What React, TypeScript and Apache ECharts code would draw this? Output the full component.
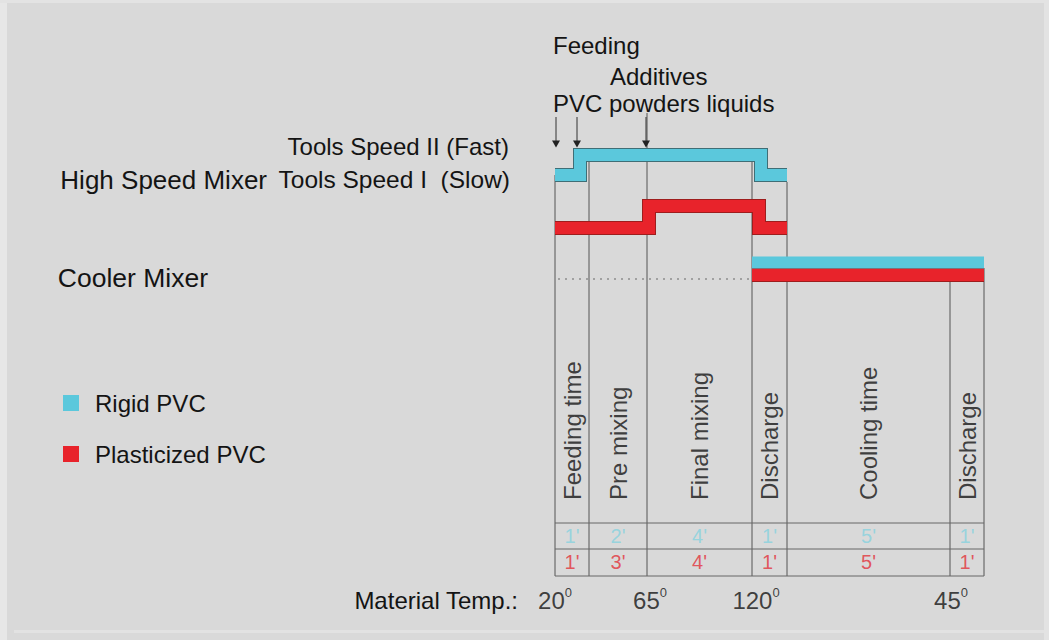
import React, { useEffect, useRef } from "react";
import * as echarts from "echarts";

// ---- Data (schematic time axis: 0..429 units, level axis: -64..476 units) ----
const phaseNames = ["Feeding time", "Pre mixing", "Final mixing", "Discharge", "Cooling time", "Discharge"];
const phaseBoundaries = [0, 34, 92, 197, 232, 395, 429];
const boundaryTops = [401, 414, 463, 414, 394, 308, 308];
const rigidMinutes = [1, 2, 4, 1, 5, 1];
const plasticizedMinutes = [1, 3, 4, 1, 5, 1];
const tempLabels = ["20", "65", "120", "45"];
const tempPositions = [0, 95, 201, 396];

// mixer speed profiles (x, level)
const rigidHighSpeed = [[0, 401], [25, 401], [25, 421], [206, 421], [206, 401], [232, 401]];
const plasticizedHighSpeed = [[0, 348], [94, 348], [94, 370], [204, 370], [204, 348], [232, 348]];
const rigidCooler = [[197, 313.5], [429, 313.5]];
const plasticizedCooler = [[197, 301], [429, 301]];
const coolerLeader = [[-340, 297], [197, 297]];
const arrowXs = [1, 22, 91];
const tableRowLines = [53, 27, 0];
const rowCenters = [40, 14];
const phaseLabelBase = 76;
const tempRow = -24;

const FONT = "'Liberation Sans', Arial, Helvetica, sans-serif";
const BLUE = "#5bc8dc";
const BLUE_EDGE = "#3f6e76";
const RED = "#e8232b";
const RED_EDGE = "#9e1d1d";
const TEXT = "#141414";

function seg(points: number[][], color: string, width: number, z = 1, type: any = "solid") {
  return {
    type: "line",
    data: points,
    showSymbol: false,
    silent: true,
    clip: false,
    z,
    lineStyle: { color, width, type, cap: "butt", join: "miter" },
    itemStyle: { color },
  };
}

function band(name: string, points: number[][], color: string, edge: string, width: number) {
  return [
    { ...seg(points, edge, width + 2, 3), name: "_edge_" + name },
    { ...seg(points, color, width, 4), name, itemStyle: { color } },
  ];
}

export default function App() {
  const ref = useRef<HTMLDivElement>(null);
  useEffect(() => {
    if (!ref.current) return;
    const chart = echarts.init(ref.current, undefined, { renderer: "svg" });

    const centers = phaseBoundaries.slice(0, -1).map((b, i) => (b + phaseBoundaries[i + 1]) / 2);

    const series: any[] = [];
    // vertical phase separators
    phaseBoundaries.forEach((x, i) => {
      series.push(seg([[x, boundaryTops[i]], [x, 0]], "#555", 1, 1));
    });
    // table rows
    tableRowLines.forEach((y) => {
      series.push(seg([[0, y], [429, y]], "#666", 1, 1));
    });
    // cooler leader dotted line
    series.push(seg(coolerLeader, "#a0a0a0", 2, 1, [2, 5]));
    // arrows
    arrowXs.forEach((x) => {
      series.push({
        type: "line",
        silent: true,
        clip: false,
        z: 2,
        lineStyle: { color: "#333", width: 1 },
        itemStyle: { color: "#222" },
        symbol: "none",
        showSymbol: true,
        data: [
          { value: [x, 459], symbol: "none" },
          { value: [x, 432], symbol: "triangle", symbolSize: [8, 7], symbolRotate: 180 },
        ],
      });
    });
    // bands
    series.push(...band("Rigid PVC", rigidHighSpeed, BLUE, BLUE_EDGE, 12));
    series.push(...band("Plasticized PVC", plasticizedHighSpeed, RED, RED_EDGE, 12));
    series.push(...band("Plasticized PVC", plasticizedCooler, RED, RED_EDGE, 12));
    series.push(...band("Rigid PVC", rigidCooler, BLUE, BLUE, 10));

    // phase names (rotated)
    series.push({
      type: "scatter",
      silent: true,
      clip: false,
      z: 5,
      symbolSize: 0,
      data: centers.map((x, i) => ({ value: [x, phaseLabelBase], name: phaseNames[i] })),
      label: {
        show: true,
        position: "inside",
        rotate: 90,
        align: "left",
        verticalAlign: "middle",
        formatter: "{b}",
        fontSize: 24,
        fontFamily: FONT,
        color: TEXT,
      },
    });
    // durations
    const durationSeries = (vals: number[], y: number, color: string) => ({
      type: "scatter",
      silent: true,
      clip: false,
      z: 5,
      symbolSize: 0,
      data: centers.map((x, i) => ({ value: [x, y], name: vals[i] + "'" })),
      label: {
        show: true,
        position: "inside",
        formatter: "{b}",
        fontSize: 20,
        fontFamily: FONT,
        color,
      },
    });
    series.push(durationSeries(rigidMinutes, rowCenters[0], "#86d2df"));
    series.push(durationSeries(plasticizedMinutes, rowCenters[1], "#e2333b"));
    // temperatures
    series.push({
      type: "scatter",
      silent: true,
      clip: false,
      z: 5,
      symbolSize: 0,
      data: tempPositions.map((x, i) => ({ value: [x, tempRow], name: tempLabels[i] })),
      label: {
        show: true,
        position: "inside",
        formatter: (p: any) => p.name + "{s|0}",
        fontSize: 24,
        lineHeight: 28,
        fontFamily: FONT,
        color: TEXT,
        rich: {
          s: { fontSize: 13, verticalAlign: "top", lineHeight: 13, fontFamily: FONT, color: TEXT },
        },
      },
    });

    const txt = (text: string, x: number, y: number, align: string, size = 24) => ({
      type: "text",
      x,
      y,
      silent: true,
      style: {
        text,
        fill: TEXT,
        font: `${size}px ${FONT}`,
        textAlign: align,
        textVerticalAlign: "middle",
      },
    });

    chart.setOption({
      animation: false,
      backgroundColor: "#d9d9d9",
      grid: { left: 555, right: 65, top: 100, bottom: 0, containLabel: false },
      xAxis: { type: "value", min: 0, max: 429, show: false },
      yAxis: { type: "value", min: -64, max: 476, show: false },
      legend: {
        orient: "vertical",
        left: 58,
        top: 384,
        icon: "rect",
        itemWidth: 16,
        itemHeight: 16,
        itemGap: 23,
        selectedMode: false,
        data: [
          { name: "Rigid PVC", itemStyle: { color: BLUE, borderWidth: 0 } },
          { name: "Plasticized PVC", itemStyle: { color: RED, borderWidth: 0 } },
        ],
        lineStyle: { width: 0 },
        textStyle: { fontSize: 24, lineHeight: 28, color: TEXT, fontFamily: FONT, padding: [0, 0, 0, 11] },
      },
      graphic: [
        { type: "rect", silent: true, shape: { x: 0, y: 0, width: 7, height: 640 }, style: { fill: "#e7e7e7" } },
        { type: "rect", silent: true, shape: { x: 0, y: 0, width: 1049, height: 3 }, style: { fill: "#e3e3e3" } },
        { type: "rect", silent: true, shape: { x: 1044, y: 0, width: 5, height: 640 }, style: { fill: "#e3e3e3" } },
        { type: "rect", silent: true, shape: { x: 14, y: 630, width: 1030, height: 3 }, style: { fill: "#e2e2e2" } },
        txt("Feeding", 553, 45, "left"),
        txt("Additives", 610, 76, "left"),
        txt("PVC powders liquids", 553, 103, "left"),
        txt("Tools Speed II (Fast)", 509, 146, "right"),
        txt("High Speed Mixer", 267, 180, "right", 26),
        txt("Tools Speed I\u00a0 (Slow)", 510, 179, "right", 24.5),
        txt("Cooler Mixer", 208, 278, "right", 26.5),
        txt("Material Temp.:", 518, 600, "right"),
      ],
      series,
    });
    return () => chart.dispose();
  }, []);
  return (
    <div
      ref={ref}
      style={{ position: "fixed", left: 0, top: 0, width: 1049, height: 640 }}
    />
  );
}
